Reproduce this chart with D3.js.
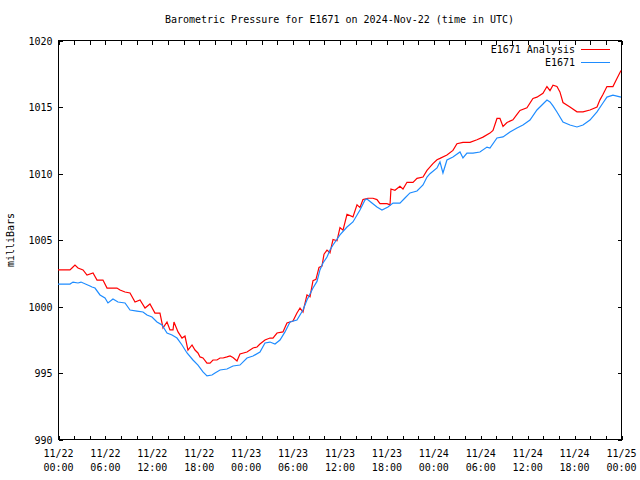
<!DOCTYPE html>
<html>
<head>
<meta charset="utf-8">
<script src="https://cdn.jsdelivr.net/npm/d3@7"></script>
<style>
  html, body { margin: 0; padding: 0; background: #fff; }
  svg text { font-family: "DejaVu Sans Mono", "Liberation Mono", monospace; font-size: 10px; fill: #000; }
</style>
</head>
<body>
<svg id="chart" width="640" height="480"></svg>
<script>
// ---- data (hours since 2024-11-22 00:00 UTC, millibars) ----
const analysisHours = [0,1.53,1.79,2.17,2.56,3.20,3.71,4.48,4.99,5.75,6.27,7.03,7.54,7.93,8.57,9.21,9.85,10.49,11.13,11.76,12.40,13.04,13.43,13.94,14.32,14.71,14.83,15.35,15.86,16.24,16.62,17.14,17.52,17.90,18.16,18.54,19.05,19.44,19.82,20.33,20.72,21.10,21.61,22.00,22.38,22.89,23.27,24.17,24.94,25.45,25.83,26.47,27.11,27.49,28.01,28.77,29.28,30.05,30.56,30.95,31.33,31.84,32.23,32.61,32.99,33.38,33.76,34.02,34.40,34.78,35.17,35.68,36.06,36.45,36.96,37.72,38.24,38.62,39.00,39.64,40.28,40.79,41.18,41.56,42.07,42.46,42.58,43.09,43.73,44.12,44.63,45.40,45.91,46.68,47.19,47.95,48.47,48.85,49.74,50.51,51.02,51.79,52.69,53.58,54.35,55.24,55.63,56.14,56.52,56.91,57.42,58.18,58.70,59.08,59.97,60.74,61.25,62.02,62.53,62.92,63.30,63.81,64.19,64.58,65.47,66.37,67.14,68.03,68.93,69.31,69.69,70.20,70.97,71.48,72];
const analysisValues = [1002.71,1002.71,1002.86,1003.08,1002.86,1002.71,1002.33,1002.48,1001.95,1001.95,1001.35,1001.35,1001.35,1001.20,1001.05,1000.98,1000.30,1000.45,999.85,1000.15,999.47,999.47,998.35,998.80,998.20,998.20,998.80,998.05,997.59,997.74,996.69,997.07,996.69,996.47,996.17,996.09,995.71,995.71,995.94,995.94,996.09,996.09,996.17,996.24,996.13,995.86,996.39,996.54,996.84,996.92,997.14,997.44,997.59,997.59,997.97,998.05,998.72,998.87,999.47,999.85,999.55,1000.83,1000.70,1001.90,1002.00,1002.90,1003.00,1003.90,1004.20,1004.00,1005.00,1004.90,1005.90,1005.70,1006.90,1006.70,1007.60,1007.40,1008.00,1008.10,1008.10,1008.00,1007.70,1007.70,1007.70,1007.60,1008.80,1008.70,1009.00,1008.80,1009.30,1009.30,1009.60,1009.70,1010.20,1010.70,1011.00,1011.10,1011.35,1011.70,1012.20,1012.30,1012.30,1012.50,1012.70,1013.00,1013.20,1014.10,1014.10,1013.50,1013.80,1014.00,1014.40,1014.70,1014.90,1015.60,1015.70,1016.00,1016.50,1016.20,1016.60,1016.50,1016.10,1015.30,1014.96,1014.60,1014.60,1014.74,1014.96,1015.50,1015.90,1016.50,1016.50,1017.10,1017.70];

const stationHours = [0,1.53,1.92,2.56,2.94,4.09,4.35,4.73,5.37,6.01,6.39,7.03,7.67,8.57,9.21,10.10,10.87,11.38,12.02,12.66,13.30,13.94,14.58,15.22,15.86,16.50,17.26,17.90,18.54,19.05,19.69,20.08,20.72,21.61,22.38,23.27,24.17,24.94,25.83,26.47,27.11,27.75,28.39,29.03,29.67,30.56,31.33,31.84,32.61,33.12,33.50,33.89,34.40,34.78,35.17,36.06,36.96,37.72,38.62,39.26,39.51,40.15,40.79,41.43,42.20,42.84,43.73,44.37,45.01,45.91,46.68,47.19,47.57,48.47,48.85,49.23,49.74,50.51,51.41,51.79,52.30,53.07,53.96,54.86,55.24,56.14,56.91,57.80,58.70,59.46,60.36,61.25,62.02,62.53,62.92,63.30,63.81,64.58,65.47,66.37,67.14,68.03,68.93,69.69,70.20,70.97,72];
const stationValues = [1001.65,1001.65,1001.80,1001.73,1001.80,1001.50,1001.43,1001.35,1000.83,1000.60,1000.23,1000.53,1000.30,1000.23,999.70,999.62,999.55,999.32,999.17,998.80,998.57,997.97,997.82,997.59,997.07,996.47,995.94,995.56,995.04,994.74,994.81,994.96,995.19,995.26,995.49,995.56,996.09,996.24,996.54,997.22,997.29,997.14,997.44,998.05,998.80,998.95,999.70,1000.45,1001.35,1001.85,1002.71,1003.23,1003.68,1004.21,1004.59,1005.34,1005.94,1006.32,1007.22,1007.97,1008.05,1007.74,1007.44,1007.22,1007.44,1007.74,1007.74,1008.12,1008.50,1008.65,1009.10,1009.70,1009.95,1010.38,1010.83,1010.00,1010.98,1011.20,1011.58,1011.13,1011.50,1011.50,1011.58,1011.95,1011.88,1012.63,1012.71,1013.08,1013.38,1013.61,1013.98,1014.74,1015.19,1015.49,1015.34,1015.04,1014.59,1013.83,1013.61,1013.46,1013.61,1013.98,1014.59,1015.26,1015.71,1015.86,1015.71];

const majorTickHours = [0,6,12,18,24,30,36,42,48,54,60,66,72];
const tickDates = ["11/22","11/22","11/22","11/22","11/23","11/23","11/23","11/23","11/24","11/24","11/24","11/24","11/25"];
const tickTimes = ["00:00","06:00","12:00","18:00","00:00","06:00","12:00","18:00","00:00","06:00","12:00","18:00","00:00"];
const yTickValues = [990,995,1000,1005,1010,1015,1020];
const seriesNames = ["E1671 Analysis","E1671"];
const seriesColors = ["#ff0000","#1e8cff"];
const titleText = "Barometric Pressure for E1671 on 2024-Nov-22 (time in UTC)";
const yLabelText = "milliBars";

// ---- layout ----
const svg = d3.select("#chart");
const L = 58, R = 621, T = 40, B = 439;
const x = d3.scaleLinear().domain([0,72]).range([L,R]);
const y = d3.scaleLinear().domain([990,1020]).range([B,T]);

// title
svg.append("text").attr("x",(L+R)/2).attr("y",23).attr("text-anchor","middle").text(titleText);

// y label
svg.append("text").attr("transform","translate(14,240) rotate(-90)").attr("text-anchor","middle").text(yLabelText);

// minor x ticks (bottom & top)
const minorHours = d3.range(0,73,2);
const gxb = svg.append("g").attr("transform",`translate(0.5,${B+0.5})`)
  .call(d3.axisBottom(x).tickValues(minorHours).tickSize(-4).tickFormat(""));
const gxt = svg.append("g").attr("transform",`translate(0.5,${T+0.5})`)
  .call(d3.axisTop(x).tickValues(minorHours).tickSize(-4).tickFormat(""));
[gxb,gxt].forEach(g=>{ g.select(".domain").remove(); g.selectAll("line").attr("stroke","#000").attr("shape-rendering","crispEdges"); });

// x labels (two lines)
const gxl = svg.append("g").attr("transform",`translate(0,${B})`)
  .call(d3.axisBottom(x).tickValues(majorTickHours).tickSize(0).tickPadding(0).tickFormat(""));
gxl.select(".domain").remove();
gxl.selectAll(".tick").each(function(d,i){
  const t = d3.select(this).append("text").attr("text-anchor","middle").attr("fill","#000");
  t.append("tspan").attr("x",0).attr("y",18).text(tickDates[i]);
  t.append("tspan").attr("x",0).attr("y",32).text(tickTimes[i]);
});

// y ticks left & right
const gyl = svg.append("g").attr("transform",`translate(${L+0.5},0.5)`)
  .call(d3.axisLeft(y).tickValues(yTickValues).tickSize(-4).tickPadding(6).tickFormat(d3.format("d")));
const gyr = svg.append("g").attr("transform",`translate(${R+0.5},0.5)`)
  .call(d3.axisRight(y).tickValues(yTickValues).tickSize(-4).tickFormat(""));
[gyl,gyr].forEach(g=>{ g.select(".domain").remove(); g.selectAll("line").attr("stroke","#000").attr("shape-rendering","crispEdges"); });
gyl.selectAll("text").attr("dy","0.35em").attr("fill","#000").style("font-family","'DejaVu Sans Mono', monospace").style("font-size","10px");

// frame
svg.append("rect").attr("x",L+0.5).attr("y",T+0.5).attr("width",R-L).attr("height",B-T)
  .attr("fill","none").attr("stroke","#000").attr("shape-rendering","crispEdges");

// lines
const line = d3.line().x(d=>x(d[0])).y(d=>y(d[1]));
const series = [
  d3.zip(analysisHours, analysisValues),
  d3.zip(stationHours, stationValues)
];
series.forEach((s,i)=>{
  svg.append("path").datum(s).attr("d",line).attr("fill","none")
    .attr("stroke",seriesColors[i]).attr("stroke-width",1.2);
});

// legend
seriesNames.forEach((n,i)=>{
  const ly = 49 + i*13;
  svg.append("text").attr("x",575).attr("y",ly).attr("dy","0.35em").attr("text-anchor","end").text(n);
  svg.append("line").attr("x1",581).attr("x2",610).attr("y1",ly+0.5).attr("y2",ly+0.5)
    .attr("stroke",seriesColors[i]).attr("stroke-width",1).attr("shape-rendering","crispEdges");
});
</script>
</body>
</html>
